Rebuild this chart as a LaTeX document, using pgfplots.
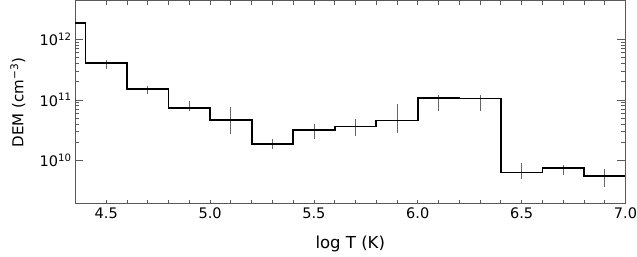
\documentclass[border=0pt]{standalone}
\usepackage{fontspec}
\setmainfont{DejaVu Sans}
\usepackage{pgfplots}
\usepackage{pgfplotstable}
\pgfplotsset{compat=1.18}

% DEM histogram: left bin edge, value
\pgfplotstableread{
x    y
4.2  1.87e12
4.4  4.11e11
4.6  1.50e11
4.8  7.39e10
5.0  4.68e10
5.2  1.88e10
5.4  3.16e10
5.6  3.67e10
5.8  4.61e10
6.0  1.09e11
6.2  1.06e11
6.4  6.41e9
6.6  7.59e9
6.8  5.66e9
7.0  5.66e9
}\demsteps

% bin centres with error range
\pgfplotstableread{
x    y        lo       hi
4.5  4.11e11  3.19e11  4.61e11
4.7  1.50e11  1.26e11  1.72e11
4.9  7.39e10  6.49e10  9.48e10
5.1  4.68e10  2.75e10  7.55e10
5.3  1.88e10  1.58e10  2.30e10
5.5  3.16e10  2.30e10  4.07e10
5.7  3.67e10  2.58e10  4.92e10
5.9  4.61e10  2.82e10  8.69e10
6.1  1.09e11  6.53e10  1.21e11
6.3  1.06e11  6.49e10  1.21e11
6.5  6.41e9   5.00e9   9.02e9
6.7  7.59e9   5.81e9   8.60e9
6.9  5.66e9   3.63e9   7.30e9
}\demerr

\begin{document}
\begin{tikzpicture}
\begin{axis}[
    name=ax,
    ymode=log,
    scale only axis,
    width=550pt, height=203pt,
    xmin=4.35, xmax=7.0,
    ymin=1.94e9, ymax=4.3e12,
    xtick={4.5,5.0,5.5,6.0,6.5,7.0},
    xticklabels={4.5,5.0,5.5,6.0,6.5,7.0},
    minor x tick num=4,
    ytick={1e10,1e11,1e12},
    yticklabels={10\textsuperscript{10},10\textsuperscript{11},10\textsuperscript{12}},
    major tick length=8pt,
    minor tick length=4pt,
    xtick style={/pgfplots/major tick length=4pt},
    axis line style={draw=black!65, line width=1pt},
    every tick/.style={black!65, line width=0.8pt},
    font=\fontsize{14.5}{17}\selectfont,
    xlabel={log T (K)},
    ylabel={DEM (cm\textsuperscript{−3})},
    every axis x label/.style={at={(axis description cs:0.5,-0.197)},anchor=center,
        font=\fontsize{16.5}{19}\selectfont},
    every axis y label/.style={at={(axis description cs:-0.104,0.5)},rotate=90,anchor=center,
        font=\fontsize{15}{18}\selectfont},
]
\addplot[draw=none, forget plot,
    error bars/.cd, y dir=both, y explicit,
    error mark=none,
    error bar style={draw=black!60, line width=0.8pt}]
    table[x=x, y=y,
          y error plus expr=\thisrow{hi}-\thisrow{y},
          y error minus expr=\thisrow{y}-\thisrow{lo}] {\demerr};
\addplot[const plot, black, line width=1.8pt] table[x=x, y=y] {\demsteps};
\end{axis}
\pgfresetboundingbox
\path ([xshift=-75pt,yshift=-52.7pt]ax.south west) rectangle ([xshift=11.5pt,yshift=0.8pt]ax.north east);
\end{tikzpicture}
\end{document}
